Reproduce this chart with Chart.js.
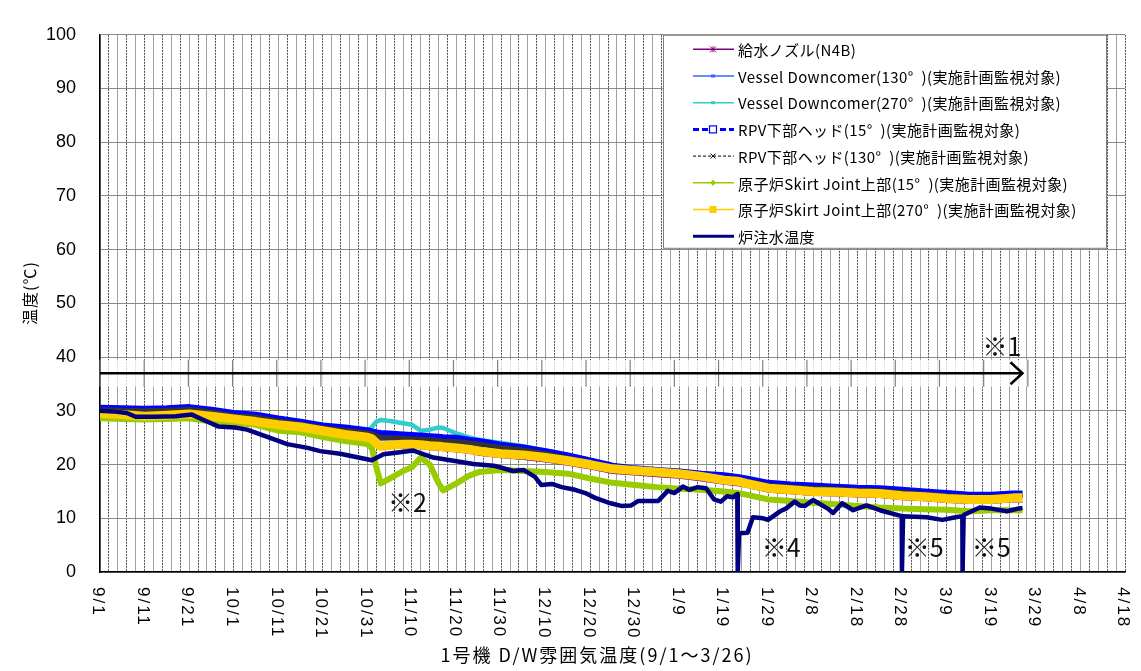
<!DOCTYPE html>
<html>
<head>
<meta charset="utf-8">
<script src="https://cdn.jsdelivr.net/npm/chart.js@4.4.0/dist/chart.umd.min.js"></script>
<style>
html, body { margin: 0; padding: 0; background: #fff; }
canvas { display: block; }
</style>
</head>
<body>
<canvas id="tempChart" width="1141" height="671"></canvas>
<script>
// days counted from 9/1
const days = [0,5,10,15,20,25,30,35,40,45,50,55,60,61,62,63,65,68,70,72,74,76,77,80,83,85,90,95,100,105,110,115,120,125,130,135,140,143,145,150,155,160,165,170,175,180,185,190,195,200,205,207];

const feedNozzle   = [28.8,28.6,28.3,28.5,28.7,28.3,27.8,27.3,26.7,26.3,25.6,24.9,24.4,24.1,23.4,22.9,23.0,23.1,23.1,23.0,22.8,22.7,22.6,22.4,22.1,21.8,21.3,21.0,20.5,19.9,19.2,18.4,18.1,17.8,17.5,17.0,16.4,16.1,15.8,14.9,14.6,14.3,14.2,14.0,13.9,13.5,13.3,13.0,12.8,12.8,13.1,13.1];
const downcomer130 = [30.4,30.3,30.2,30.3,30.5,30.0,29.4,29.1,28.4,27.8,27.1,26.7,26.2,25.9,25.2,24.8,24.9,25.1,25.2,25.2,25.1,25.0,24.9,24.8,24.4,24.2,23.5,23.0,22.3,21.5,20.6,19.6,19.1,18.8,18.5,18.1,17.8,17.5,17.2,16.4,16.1,15.9,15.7,15.5,15.4,15.1,14.8,14.5,14.2,14.2,14.4,14.4];
const downcomer270 = [30.3,30.2,30.1,30.2,30.4,29.9,29.3,29.0,28.3,27.7,27.0,26.6,26.1,27.0,28.0,28.3,28.1,27.7,27.4,26.3,26.5,26.9,26.8,25.8,25.0,24.6,24.0,23.4,22.6,21.8,20.8,19.7,19.1,18.7,18.4,18.0,17.7,17.4,17.1,16.3,16.0,15.8,15.6,15.4,15.3,15.0,14.7,14.4,14.1,14.1,14.3,14.3];
const rpvHead15    = [30.5,30.4,30.3,30.4,30.6,30.1,29.5,29.2,28.5,27.9,27.2,26.8,26.3,26.1,25.9,25.8,25.7,25.5,25.4,25.3,25.2,25.1,25.0,24.9,24.5,24.3,23.6,23.1,22.4,21.6,20.7,19.7,19.2,18.9,18.6,18.2,17.9,17.6,17.3,16.5,16.2,16.0,15.8,15.6,15.5,15.2,14.9,14.6,14.3,14.3,14.5,14.5];
const rpvHead130   = [30.2,30.1,30.0,30.1,30.3,29.8,29.1,28.8,28.1,27.5,26.8,26.4,25.9,25.7,25.4,25.1,25.0,24.9,24.8,24.7,24.6,24.5,24.4,24.3,24.0,23.8,23.2,22.7,22.0,21.2,20.3,19.3,18.8,18.5,18.2,17.8,17.5,17.2,16.9,16.1,15.8,15.6,15.4,15.2,15.1,14.8,14.5,14.2,13.9,13.9,14.1,14.1];
const skirt15      = [28.6,28.5,28.4,28.5,28.6,28.0,27.8,27.4,26.3,26.0,25.1,24.4,23.8,23.1,19.5,16.5,17.4,18.8,19.5,21.3,20.0,16.5,15.2,16.5,18.0,18.6,19.0,18.8,18.6,18.3,17.4,16.6,16.2,15.8,15.5,15.3,15.0,14.7,14.4,13.5,13.2,12.9,12.6,12.3,12.0,11.8,11.7,11.6,11.3,11.5,11.5,11.5];
const skirt270     = [29.5,29.3,29.0,29.2,29.4,29.0,28.5,28.0,27.4,27.0,26.3,25.6,25.1,24.8,24.0,23.4,23.6,23.8,23.8,23.7,23.5,23.4,23.3,23.1,22.8,22.5,22.0,21.8,21.3,20.7,20.0,19.2,18.9,18.6,18.3,17.8,17.1,16.9,16.5,15.6,15.3,15.0,14.9,14.7,14.6,14.2,14.0,13.7,13.5,13.5,13.8,13.8];

// 炉注水温度 has its own sampling (drops to 0)
const injDays = [0,3,6,8,12,17,20.6,23,26.5,30.3,33,37.7,42,46.6,49.4,53.9,59.9,61,63.6,67.3,70.3,74.8,79.3,83.8,88.3,89.7,92.7,95,97.6,99,101.4,103.6,106.6,108.9,111.1,114.1,117,119.2,120.7,125.2,127.4,128.9,130.8,132.2,134.1,136,137.8,139.3,140.7,142,143,143.1,143.4,145.3,146.5,148.8,149.9,152.6,153.9,155.9,157,158.2,160,163.3,164.5,166.5,169,172,175,179.9,179.95,180.2,185.5,189,192,193.5,193.55,193.8,197.4,200,203.5,206,207];
const injTemp = [30.0,29.9,29.6,28.9,28.9,29.0,29.3,28.4,27.1,26.9,26.5,25.1,23.8,23.1,22.5,22.0,21.0,20.8,21.9,22.3,22.6,21.3,20.7,20.1,19.8,19.5,18.8,19.0,17.7,16.2,16.4,15.8,15.3,14.7,13.8,12.9,12.3,12.4,13.2,13.2,15.1,14.7,15.9,15.3,15.8,15.6,13.5,13.1,14.1,13.9,14.5,0,7.2,7.3,10.2,10.0,9.7,11.3,11.8,13.1,12.4,12.3,13.4,11.8,11.0,12.8,11.5,12.4,11.5,10.4,0,10.4,10.2,9.7,10.2,10.4,0,10.6,12.0,11.8,11.3,11.8,11.9];

const tickLabels = ['9/1','9/11','9/21','10/1','10/11','10/21','10/31','11/10','11/20','11/30','12/10','12/20','12/30','1/9','1/19','1/29','2/8','2/18','2/28','3/9','3/19','3/29','4/8','4/18'];

const seriesNames = [
    '給水ノズル(N4B)',
    'Vessel Downcomer(130°\u2002)(実施計画監視対象)',
    'Vessel Downcomer(270°\u2002)(実施計画監視対象)',
    'RPV下部ヘッド(15°\u2002)(実施計画監視対象)',
    'RPV下部ヘッド(130°\u2002)(実施計画監視対象)',
    '原子炉Skirt Joint上部(15°\u2002)(実施計画監視対象)',
    '原子炉Skirt Joint上部(270°\u2002)(実施計画監視対象)',
    '炉注水温度'
];

// notes drawn on the plot (day at left of text, temperature at middle)
const notes = [
    { text: '※1', day: 198, temp: 42.0 },
    { text: '※2', day: 64.6, temp: 12.9 },
    { text: '※4', day: 148.5, temp: 4.5 },
    { text: '※5', day: 180.6, temp: 4.5 },
    { text: '※5', day: 195.6, temp: 4.5 }
];
const arrowEndDay = 207;

const JP = '"Noto Sans CJK JP", sans-serif';

function pts(xs, ys) {
    return xs.map(function (d, i) { return { x: d, y: ys[i] }; });
}

const styles = [
    { color: '#800080', width: 1.5, legendWidth: 1.5, dash: [], marker: 'star' },
    { color: '#3366ff', width: 4.5, legendWidth: 1.5, dash: [], marker: 'dash' },
    { color: '#33cccc', width: 4.5, legendWidth: 1.5, dash: [], marker: 'dash' },
    { color: '#0000ff', width: 7, legendWidth: 3, dash: [6, 3], marker: 'openSquare' },
    { color: '#333333', width: 5, legendWidth: 1, dash: [3, 2], marker: 'cross', legendColor: '#000' },
    { color: '#99cc00', width: 6, legendWidth: 1.5, dash: [], marker: 'diamond' },
    { color: '#ffcc00', width: 9, legendWidth: 1.5, dash: [], marker: 'square' },
    { color: '#000080', width: 4.5, legendWidth: 3, dash: [], marker: 'none' }
];

const seriesValues = [feedNozzle, downcomer130, downcomer270, rpvHead15, rpvHead130, skirt15, skirt270, null];

const datasets = seriesNames.map(function (name, i) {
    const data = i === 7 ? pts(injDays, injTemp) : pts(days, seriesValues[i]);
    return {
        label: name,
        data: data,
        borderColor: styles[i].color,
        backgroundColor: styles[i].color,
        borderWidth: styles[i].width,
        borderJoinStyle: 'round',
        pointRadius: 0,
        tension: 0,
        fill: false,
        order: 8 - i
    };
});

function drawMarker(ctx, type, x, y, color) {
    ctx.save();
    ctx.strokeStyle = color;
    ctx.fillStyle = color;
    ctx.lineWidth = 1;
    ctx.setLineDash([]);
    if (type === 'star') {
        ctx.beginPath();
        ctx.moveTo(x - 3, y - 3); ctx.lineTo(x + 3, y + 3);
        ctx.moveTo(x - 3, y + 3); ctx.lineTo(x + 3, y - 3);
        ctx.moveTo(x, y - 3); ctx.lineTo(x, y + 3);
        ctx.stroke();
    } else if (type === 'dash') {
        ctx.fillRect(x - 2, y - 1.5, 4, 3);
    } else if (type === 'openSquare') {
        ctx.fillStyle = '#fff';
        ctx.fillRect(x - 3.5, y - 3.5, 7, 7);
        ctx.lineWidth = 1.2;
        ctx.strokeRect(x - 3.5, y - 3.5, 7, 7);
    } else if (type === 'cross') {
        ctx.beginPath();
        ctx.moveTo(x - 2.5, y - 2.5); ctx.lineTo(x + 2.5, y + 2.5);
        ctx.moveTo(x - 2.5, y + 2.5); ctx.lineTo(x + 2.5, y - 2.5);
        ctx.stroke();
    } else if (type === 'diamond') {
        ctx.beginPath();
        ctx.moveTo(x, y - 3); ctx.lineTo(x + 3, y); ctx.lineTo(x, y + 3); ctx.lineTo(x - 3, y);
        ctx.closePath();
        ctx.fill();
    } else if (type === 'square') {
        ctx.fillRect(x - 3.5, y - 3.5, 7, 7);
    }
    ctx.restore();
}

const decorPlugin = {
    id: 'decor',
    afterDatasetsDraw: function (chart) {
        const ctx = chart.ctx;
        const xs = chart.scales.x, ys = chart.scales.y;
        const area = chart.chartArea;

        // band with the arrow
        const bTop = ys.getPixelForValue(39.5), bBot = ys.getPixelForValue(34.5);
        const aY = ys.getPixelForValue(37.0);
        const x0 = xs.getPixelForValue(0), x1 = xs.getPixelForValue(arrowEndDay);
        ctx.save();
        ctx.fillStyle = 'rgba(255,255,255,0.75)';
        ctx.fillRect(area.left + 1, bTop, xs.getPixelForValue(209) - area.left, bBot - bTop);
        ctx.strokeStyle = '#808080';
        ctx.lineWidth = 1.2;
        for (let k = 0; k <= 21; k++) {
            const tx = xs.getPixelForValue(k * 208.2 / 21);
            ctx.beginPath();
            ctx.moveTo(tx, bTop);
            ctx.lineTo(tx, bBot);
            ctx.stroke();
        }
        ctx.strokeStyle = '#000';
        ctx.lineWidth = 2.5;
        ctx.beginPath();
        ctx.moveTo(x0, aY);
        ctx.lineTo(x1, aY);
        ctx.moveTo(x1 - 12, aY - 11);
        ctx.lineTo(x1, aY);
        ctx.lineTo(x1 - 12, aY + 11);
        ctx.stroke();
        ctx.restore();

        // notes
        ctx.save();
        ctx.fillStyle = '#111';
        ctx.font = '25px ' + JP;
        ctx.textBaseline = 'middle';
        ctx.textAlign = 'left';
        notes.forEach(function (n) {
            ctx.fillText(n.text, xs.getPixelForValue(n.day), ys.getPixelForValue(n.temp));
        });
        ctx.restore();

        // x tick labels, rotated clockwise
        ctx.save();
        ctx.fillStyle = '#000';
        ctx.font = '17px "Liberation Sans", sans-serif';
        ctx.letterSpacing = '2px';
        ctx.textBaseline = 'middle';
        ctx.textAlign = 'left';
        tickLabels.forEach(function (lab, i) {
            const px = xs.getPixelForValue(i * 10) - 2;
            ctx.save();
            ctx.translate(px, area.bottom + 15);
            ctx.rotate(Math.PI / 2);
            ctx.fillText(lab, 0, 0);
            ctx.restore();
        });
        ctx.restore();

        // axis titles
        ctx.save();
        ctx.fillStyle = '#000';
        ctx.font = '18px ' + JP;
        ctx.letterSpacing = '2px';
        ctx.textAlign = 'center';
        ctx.textBaseline = 'middle';
        ctx.fillText('1号機 D/W雰囲気温度(9/1～3/26)', 597, 655);
        ctx.translate(30, 293);
        ctx.rotate(-Math.PI / 2);
        ctx.font = '16px ' + JP;
        ctx.letterSpacing = '1px';
        ctx.fillText('温度(℃)', 0, 0);
        ctx.restore();

        // legend
        const lx = area.right - 462, ly = area.top, lw = 443, lh = 213;
        ctx.save();
        ctx.fillStyle = '#fff';
        ctx.fillRect(lx, ly, lw, lh);
        ctx.strokeStyle = '#7f7f7f';
        ctx.lineWidth = 1;
        ctx.strokeRect(lx + 0.5, ly + 0.5, lw, lh);
        ctx.font = '15px ' + JP;
        ctx.letterSpacing = '0.4px';
        ctx.textBaseline = 'middle';
        ctx.textAlign = 'left';
        seriesNames.forEach(function (name, i) {
            const st = styles[i];
            const ry = ly + 14.5 + i * 26.7;
            const col = st.legendColor || st.color;
            ctx.save();
            ctx.strokeStyle = col;
            ctx.lineWidth = st.legendWidth;
            ctx.setLineDash(st.dash);
            ctx.beginPath();
            ctx.moveTo(lx + 30, ry);
            ctx.lineTo(lx + 71, ry);
            ctx.stroke();
            ctx.restore();
            drawMarker(ctx, st.marker, lx + 50, ry, col);
            ctx.fillStyle = '#000';
            ctx.fillText(name, lx + 75, ry + 1);
        });
        ctx.restore();
    }
};

new Chart(document.getElementById('tempChart').getContext('2d'), {
    type: 'line',
    data: { datasets: datasets },
    options: {
        responsive: false,
        animation: false,
        events: [],
        layout: { padding: { left: 0, top: 14, right: 16, bottom: 0 } },
        plugins: { legend: { display: false }, tooltip: { enabled: false } },
        scales: {
            x: {
                type: 'linear',
                min: 0,
                max: 230,
                ticks: { display: false, stepSize: 2, maxTicksLimit: 200 },
                grid: {
                    color: function (c) { return c.index % 2 === 0 ? '#a0a0a0' : '#505050'; },
                    lineWidth: 1,
                    drawTicks: false
                },
                border: {
                    color: '#000',
                    width: 1.5,
                    dash: function (c) { return (c.type === 'tick' && c.index % 2 === 1) ? [2, 1] : []; }
                },
                afterFit: function (s) { s.height = 99; }
            },
            y: {
                min: 0,
                max: 100,
                ticks: {
                    stepSize: 10,
                    color: '#000',
                    padding: 24,
                    font: { family: '"Liberation Sans", sans-serif', size: 18 }
                },
                grid: { color: '#8a8a8a', lineWidth: 1, drawTicks: false },
                border: { color: '#000', width: 1.5 },
                afterFit: function (s) { s.width = 100; }
            }
        }
    },
    plugins: [decorPlugin]
});
</script>
</body>
</html>
